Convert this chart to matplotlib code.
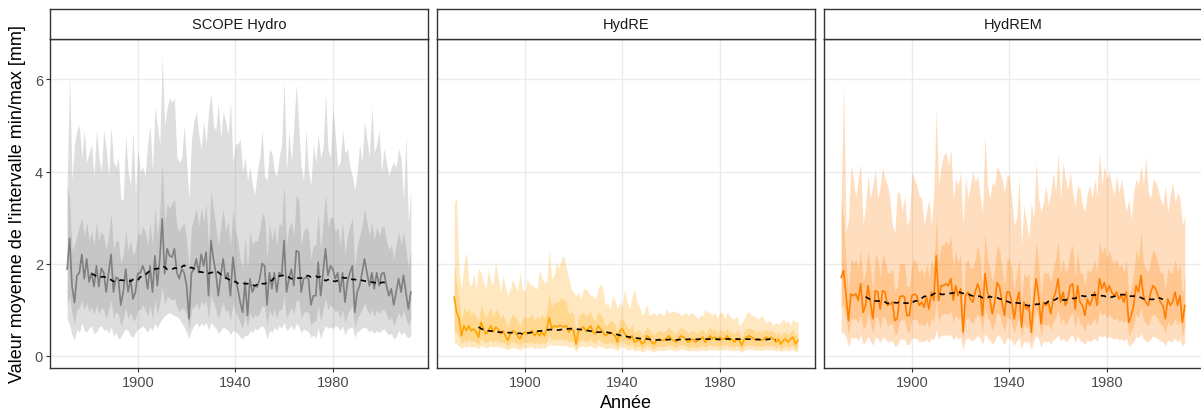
import numpy as np
import pandas as pd
import matplotlib
matplotlib.use("Agg")
import matplotlib.pyplot as plt

plt.rcParams['font.family'] = ['Liberation Sans', 'DejaVu Sans']

years = list(range(1871, 2013))
panel_titles = ["SCOPE Hydro", "HydRE", "HydREM"]
panel_colors = ["#7F7F7F", "#FFA500", "#FF7F00"]
x_ticks = [1900, 1940, 1980]
y_ticks = [0, 2, 4, 6]
x_label = "Année"
y_label = "Valeur moyenne de l'intervalle min/max [mm]"

# ---------------- SCOPE Hydro ----------------
scope_median = [
    1.88, 2.55, 1.50, 1.15, 1.74, 1.80, 2.20, 1.67, 2.10, 1.60,
    1.80, 1.50, 1.95, 1.50, 1.90, 1.80, 1.38, 1.80, 2.20, 1.38,
    1.70, 1.67, 1.10, 1.38, 1.88, 1.38, 1.67, 1.23, 1.38, 1.78,
    1.80, 1.95, 1.80, 1.45, 1.95, 1.38, 2.17, 1.52, 2.10, 2.97,
    1.78, 2.32, 2.17, 2.14, 2.32, 1.80, 1.67, 1.88, 1.80, 1.52,
    0.80, 1.80, 1.88, 2.10, 1.80, 2.20, 1.95, 2.25, 1.30, 2.50,
    2.10, 1.80, 1.30, 1.74, 2.10, 1.67, 1.80, 1.30, 2.14, 1.67,
    1.45, 1.16, 0.94, 1.60, 0.87, 1.67, 1.38, 1.52, 1.49, 1.67,
    2.00, 1.95, 1.10, 1.80, 1.45, 1.80, 1.38, 1.80, 1.74, 2.50,
    1.38, 1.67, 1.88, 1.52, 2.28, 2.25, 1.38, 1.67, 1.70, 1.67,
    1.10, 1.30, 1.30, 2.03, 1.30, 1.80, 2.32, 1.74, 1.95, 1.88,
    1.67, 1.80, 1.38, 1.80, 1.16, 1.60, 1.80, 1.95, 0.94, 1.38,
    1.52, 1.80, 2.10, 1.80, 1.52, 1.80, 1.45, 1.80, 1.52, 1.78,
    1.80, 1.52, 1.30, 1.45, 1.10, 1.38, 1.67, 1.38, 1.74, 1.38,
    1.01, 1.38]
scope_outer_hi = [
    3.80, 6.10, 3.80, 4.60, 4.90, 5.00, 4.30, 4.90, 4.20, 4.40,
    4.60, 3.90, 4.90, 4.30, 4.00, 4.90, 4.50, 3.90, 5.00, 4.20,
    4.10, 4.30, 3.40, 3.40, 4.80, 4.00, 3.70, 4.90, 3.50, 4.50,
    4.00, 4.10, 3.90, 4.60, 5.00, 4.00, 5.40, 5.00, 4.60, 6.50,
    5.00, 5.40, 5.60, 5.50, 5.60, 4.30, 4.20, 4.30, 5.00, 4.20,
    3.40, 4.70, 5.10, 5.30, 4.80, 4.50, 5.10, 4.60, 5.30, 5.70,
    5.00, 4.90, 5.50, 4.70, 5.30, 5.10, 4.80, 5.50, 4.20, 4.60,
    4.60, 4.70, 4.00, 4.30, 3.80, 4.10, 3.70, 3.50, 4.00, 4.30,
    4.90, 3.90, 3.80, 4.50, 4.40, 4.00, 3.90, 4.30, 4.60, 6.00,
    4.00, 4.90, 4.20, 5.00, 5.90, 5.00, 4.10, 3.80, 4.90, 4.00,
    3.70, 4.60, 4.20, 4.80, 4.30, 4.50, 5.70, 4.50, 4.30, 5.40,
    4.80, 4.10, 4.20, 4.90, 4.40, 4.50, 4.10, 3.90, 3.60, 4.00,
    4.60, 4.20, 5.10, 4.70, 4.30, 5.40, 4.40, 4.60, 4.90, 4.00,
    4.50, 4.20, 3.90, 4.10, 4.20, 4.10, 4.50, 4.30, 3.40, 4.80,
    2.90, 3.60]
scope_outer_lo = [
    0.80, 0.65, 0.45, 0.33, 0.58, 0.50, 0.72, 0.55, 0.51, 0.60,
    0.65, 0.48, 0.51, 0.62, 0.65, 0.55, 0.58, 0.48, 0.62, 0.43,
    0.50, 0.36, 0.40, 0.51, 0.58, 0.55, 0.43, 0.40, 0.50, 0.58,
    0.60, 0.65, 0.58, 0.50, 0.62, 0.55, 0.70, 0.60, 0.72, 0.80,
    0.87, 0.90, 0.94, 0.90, 0.87, 0.85, 0.80, 0.70, 0.62, 0.50,
    0.36, 0.55, 0.65, 0.72, 0.62, 0.70, 0.65, 0.72, 0.55, 0.72,
    0.65, 0.60, 0.48, 0.55, 0.62, 0.58, 0.55, 0.45, 0.55, 0.51,
    0.48, 0.40, 0.36, 0.45, 0.43, 0.55, 0.50, 0.60, 0.55, 0.62,
    0.65, 0.58, 0.36, 0.55, 0.50, 0.62, 0.55, 0.65, 0.60, 0.72,
    0.55, 0.60, 0.65, 0.55, 0.70, 0.65, 0.50, 0.58, 0.55, 0.52,
    0.40, 0.45, 0.38, 0.60, 0.36, 0.55, 0.65, 0.60, 0.62, 0.58,
    0.65, 0.62, 0.55, 0.65, 0.45, 0.58, 0.60, 0.62, 0.40, 0.52,
    0.55, 0.60, 0.62, 0.58, 0.52, 0.55, 0.48, 0.55, 0.50, 0.55,
    0.58, 0.50, 0.45, 0.48, 0.36, 0.42, 0.55, 0.45, 0.52, 0.43,
    0.38, 0.45]
scope_inner_hi = [
    3.70, 3.40, 2.30, 2.40, 2.60, 2.80, 3.00, 2.60, 2.90, 2.50,
    2.70, 2.40, 2.90, 2.50, 2.70, 2.60, 2.30, 2.60, 3.10, 2.30,
    2.50, 2.50, 2.00, 2.20, 2.70, 2.30, 2.50, 2.20, 2.30, 2.70,
    2.60, 2.80, 2.70, 2.40, 2.90, 2.40, 3.20, 2.60, 3.10, 4.20,
    2.90, 3.30, 3.20, 3.30, 3.40, 2.80, 2.70, 2.80, 2.90, 2.50,
    1.90, 2.80, 3.00, 3.20, 2.80, 3.20, 2.90, 3.30, 2.30, 3.60,
    3.20, 2.80, 2.40, 2.80, 3.20, 2.70, 2.90, 2.40, 3.20, 2.70,
    2.50, 2.10, 1.90, 2.60, 1.90, 2.70, 2.40, 2.50, 2.50, 2.70,
    3.10, 3.00, 2.10, 2.90, 2.50, 2.80, 2.40, 2.90, 2.80, 3.70,
    2.40, 2.80, 2.90, 2.60, 3.50, 3.40, 2.40, 2.70, 2.80, 2.70,
    2.10, 2.40, 2.40, 3.10, 2.30, 2.90, 3.50, 2.80, 3.00, 3.00,
    2.70, 2.80, 2.40, 2.90, 2.20, 2.60, 2.80, 3.00, 1.90, 2.40,
    2.60, 2.80, 3.20, 2.90, 2.60, 2.90, 2.50, 2.80, 2.60, 2.80,
    2.80, 2.50, 2.30, 2.40, 2.10, 2.40, 2.70, 2.40, 2.70, 2.30,
    1.90, 2.30]
scope_inner_lo = [
    1.10, 1.30, 0.90, 0.70, 1.00, 1.05, 1.20, 1.00, 1.15, 0.95,
    1.05, 0.90, 1.10, 0.90, 1.05, 1.00, 0.80, 1.00, 1.20, 0.80,
    0.95, 0.90, 0.65, 0.80, 1.05, 0.80, 0.95, 0.75, 0.80, 1.00,
    1.00, 1.10, 1.00, 0.85, 1.10, 0.80, 1.20, 0.90, 1.15, 1.50,
    1.10, 1.30, 1.25, 1.20, 1.25, 1.05, 0.95, 1.05, 1.00, 0.90,
    0.55, 1.00, 1.05, 1.15, 1.00, 1.20, 1.10, 1.20, 0.80, 1.30,
    1.15, 1.00, 0.80, 1.00, 1.15, 0.95, 1.00, 0.75, 1.15, 0.95,
    0.85, 0.70, 0.60, 0.90, 0.60, 0.95, 0.80, 0.90, 0.85, 0.95,
    1.10, 1.05, 0.65, 1.00, 0.85, 1.00, 0.80, 1.00, 1.00, 1.30,
    0.80, 0.95, 1.05, 0.90, 1.20, 1.20, 0.80, 0.95, 0.95, 0.95,
    0.65, 0.75, 0.75, 1.10, 0.75, 1.00, 1.25, 1.00, 1.10, 1.05,
    0.95, 1.00, 0.80, 1.00, 0.70, 0.90, 1.00, 1.10, 0.60, 0.80,
    0.90, 1.00, 1.15, 1.00, 0.90, 1.00, 0.85, 1.00, 0.90, 1.00,
    1.00, 0.90, 0.75, 0.85, 0.65, 0.80, 0.95, 0.80, 1.00, 0.80,
    0.65, 0.80]

# ---------------- HydRE ----------------
hydre_median = [
    1.27, 0.94, 0.80, 0.43, 0.65, 0.54, 0.65, 0.54, 0.58, 0.51,
    0.40, 0.72, 0.58, 0.47, 0.54, 0.65, 0.51, 0.62, 0.58, 0.47,
    0.54, 0.43, 0.33, 0.47, 0.54, 0.51, 0.43, 0.36, 0.47, 0.51,
    0.47, 0.51, 0.54, 0.43, 0.51, 0.43, 0.51, 0.43, 0.58, 0.83,
    0.58, 0.65, 0.62, 0.65, 0.65, 0.62, 0.65, 0.51, 0.58, 0.54,
    0.25, 0.54, 0.58, 0.62, 0.54, 0.58, 0.65, 0.51, 0.47, 0.65,
    0.58, 0.51, 0.43, 0.47, 0.51, 0.47, 0.43, 0.29, 0.54, 0.58,
    0.47, 0.40, 0.36, 0.43, 0.29, 0.33, 0.36, 0.25, 0.29, 0.43,
    0.40, 0.29, 0.25, 0.33, 0.36, 0.33, 0.33, 0.36, 0.43, 0.36,
    0.33, 0.29, 0.36, 0.43, 0.40, 0.36, 0.29, 0.33, 0.36, 0.29,
    0.33, 0.36, 0.40, 0.29, 0.36, 0.43, 0.36, 0.40, 0.33, 0.40,
    0.36, 0.36, 0.43, 0.33, 0.36, 0.29, 0.36, 0.33, 0.22, 0.36,
    0.40, 0.43, 0.40, 0.36, 0.33, 0.36, 0.33, 0.36, 0.40, 0.36,
    0.40, 0.36, 0.29, 0.36, 0.25, 0.33, 0.36, 0.29, 0.36, 0.40,
    0.25, 0.33]
hydre_outer_hi = [
    3.30, 3.44, 1.80, 1.45, 2.00, 2.25, 1.60, 1.50, 1.80, 1.45,
    1.90, 1.81, 1.60, 1.45, 1.88, 1.60, 1.55, 2.03, 1.70, 1.38,
    1.74, 1.50, 1.30, 1.45, 1.67, 1.52, 1.40, 1.81, 1.45, 1.38,
    1.67, 1.55, 1.52, 1.48, 1.45, 1.88, 1.70, 1.59, 1.60, 2.32,
    1.67, 1.75, 2.03, 1.90, 2.10, 2.17, 1.90, 1.67, 1.45, 1.38,
    1.30, 1.38, 1.23, 1.45, 1.45, 1.38, 1.30, 1.30, 1.23, 1.45,
    1.56, 1.45, 1.09, 1.16, 1.01, 1.30, 1.20, 1.01, 1.16, 1.09,
    1.45, 1.16, 1.01, 1.30, 1.45, 1.16, 1.09, 0.87, 0.94, 1.12,
    0.87, 0.90, 0.94, 0.87, 0.94, 0.90, 0.87, 1.01, 0.94, 0.94,
    0.98, 0.94, 0.94, 0.87, 0.90, 0.94, 0.87, 0.94, 0.90, 0.87,
    0.80, 0.87, 0.87, 1.01, 0.94, 0.94, 0.87, 0.94, 0.80, 0.94,
    0.94, 0.80, 0.94, 0.87, 0.80, 0.80, 0.87, 0.65, 0.72, 0.80,
    0.94, 0.94, 0.87, 0.87, 0.80, 0.80, 0.87, 0.80, 0.72, 0.76,
    0.72, 0.65, 0.72, 0.68, 0.72, 0.80, 0.72, 0.76, 0.65, 0.80,
    0.72, 0.76]
hydre_outer_lo = [
    0.29, 0.25, 0.22, 0.15, 0.20, 0.18, 0.22, 0.18, 0.20, 0.18,
    0.15, 0.22, 0.20, 0.17, 0.18, 0.22, 0.18, 0.20, 0.20, 0.17,
    0.18, 0.15, 0.12, 0.16, 0.18, 0.17, 0.15, 0.12, 0.16, 0.18,
    0.17, 0.18, 0.19, 0.15, 0.18, 0.15, 0.18, 0.15, 0.20, 0.25,
    0.22, 0.23, 0.22, 0.23, 0.22, 0.21, 0.22, 0.18, 0.20, 0.18,
    0.08, 0.18, 0.20, 0.21, 0.18, 0.20, 0.22, 0.18, 0.16, 0.22,
    0.20, 0.18, 0.15, 0.16, 0.18, 0.16, 0.15, 0.10, 0.18, 0.20,
    0.16, 0.13, 0.12, 0.15, 0.10, 0.11, 0.12, 0.08, 0.10, 0.14,
    0.13, 0.10, 0.08, 0.11, 0.12, 0.11, 0.11, 0.12, 0.14, 0.12,
    0.11, 0.10, 0.12, 0.14, 0.13, 0.12, 0.10, 0.11, 0.12, 0.10,
    0.11, 0.12, 0.13, 0.10, 0.12, 0.14, 0.12, 0.13, 0.11, 0.13,
    0.12, 0.12, 0.14, 0.11, 0.12, 0.10, 0.12, 0.11, 0.07, 0.12,
    0.13, 0.14, 0.13, 0.12, 0.11, 0.12, 0.11, 0.12, 0.13, 0.12,
    0.13, 0.12, 0.10, 0.12, 0.08, 0.11, 0.12, 0.10, 0.12, 0.13,
    0.08, 0.11]
hydre_inner_hi = [
    2.00, 1.60, 1.20, 0.75, 1.05, 0.95, 1.00, 0.90, 0.95, 0.85,
    0.75, 1.10, 0.95, 0.80, 0.95, 1.05, 0.85, 1.00, 0.95, 0.80,
    0.90, 0.75, 0.60, 0.80, 0.90, 0.85, 0.75, 0.65, 0.80, 0.85,
    0.80, 0.85, 0.90, 0.75, 0.85, 0.80, 0.90, 0.80, 1.00, 1.35,
    1.05, 1.15, 1.15, 1.20, 1.25, 1.20, 1.15, 0.90, 0.95, 0.90,
    0.50, 0.85, 0.90, 0.95, 0.85, 0.90, 0.95, 0.80, 0.75, 0.95,
    0.90, 0.80, 0.65, 0.70, 0.75, 0.75, 0.68, 0.50, 0.80, 0.80,
    0.72, 0.62, 0.58, 0.68, 0.50, 0.55, 0.56, 0.45, 0.50, 0.62,
    0.58, 0.50, 0.45, 0.52, 0.56, 0.52, 0.52, 0.55, 0.62, 0.55,
    0.52, 0.48, 0.55, 0.62, 0.58, 0.55, 0.48, 0.52, 0.55, 0.48,
    0.50, 0.55, 0.58, 0.48, 0.55, 0.62, 0.55, 0.58, 0.50, 0.58,
    0.55, 0.52, 0.60, 0.50, 0.52, 0.46, 0.55, 0.48, 0.38, 0.52,
    0.58, 0.60, 0.58, 0.55, 0.50, 0.55, 0.50, 0.55, 0.56, 0.52,
    0.56, 0.52, 0.45, 0.52, 0.42, 0.50, 0.52, 0.45, 0.52, 0.56,
    0.42, 0.50]
hydre_inner_lo = [
    0.55, 0.50, 0.42, 0.25, 0.35, 0.30, 0.35, 0.30, 0.32, 0.28,
    0.24, 0.38, 0.32, 0.27, 0.30, 0.35, 0.28, 0.34, 0.32, 0.27,
    0.30, 0.25, 0.20, 0.27, 0.30, 0.28, 0.25, 0.21, 0.27, 0.29,
    0.27, 0.29, 0.30, 0.25, 0.29, 0.25, 0.29, 0.25, 0.32, 0.45,
    0.34, 0.36, 0.35, 0.36, 0.36, 0.34, 0.36, 0.29, 0.32, 0.30,
    0.15, 0.30, 0.32, 0.34, 0.30, 0.32, 0.36, 0.29, 0.27, 0.36,
    0.32, 0.29, 0.25, 0.27, 0.29, 0.27, 0.25, 0.17, 0.30, 0.32,
    0.27, 0.23, 0.21, 0.25, 0.17, 0.19, 0.21, 0.15, 0.17, 0.24,
    0.22, 0.17, 0.14, 0.19, 0.21, 0.19, 0.19, 0.21, 0.24, 0.21,
    0.19, 0.17, 0.21, 0.24, 0.22, 0.21, 0.17, 0.19, 0.21, 0.17,
    0.19, 0.21, 0.22, 0.17, 0.21, 0.24, 0.21, 0.22, 0.19, 0.22,
    0.21, 0.21, 0.24, 0.19, 0.21, 0.17, 0.21, 0.19, 0.13, 0.21,
    0.22, 0.24, 0.22, 0.21, 0.19, 0.21, 0.19, 0.21, 0.22, 0.21,
    0.22, 0.21, 0.17, 0.21, 0.14, 0.19, 0.21, 0.17, 0.21, 0.22,
    0.14, 0.19]

# ---------------- HydREM ----------------
hydrem_median = [
    1.70, 1.85, 1.30, 0.76, 1.34, 1.30, 1.34, 1.20, 1.56, 0.94,
    1.09, 1.52, 1.16, 0.80, 1.41, 1.38, 1.01, 1.41, 1.38, 1.09,
    1.12, 1.16, 0.76, 0.80, 1.27, 1.30, 1.27, 0.87, 0.87, 1.30,
    1.34, 1.30, 1.09, 1.16, 1.05, 1.27, 1.01, 1.38, 1.20, 2.17,
    1.20, 1.52, 1.52, 1.56, 1.52, 1.67, 1.20, 1.52, 1.30, 1.45,
    0.51, 1.30, 1.38, 1.23, 1.16, 1.38, 1.56, 1.38, 0.87, 1.78,
    1.38, 1.23, 0.91, 1.16, 1.59, 1.49, 1.16, 0.87, 1.38, 1.38,
    1.16, 0.80, 1.16, 1.38, 0.62, 1.16, 1.01, 1.09, 0.51, 1.16,
    1.67, 1.30, 0.69, 1.16, 1.09, 1.16, 0.91, 1.23, 1.38, 1.67,
    1.16, 1.38, 1.09, 1.23, 1.52, 1.56, 1.01, 1.52, 1.16, 1.09,
    0.87, 1.23, 1.09, 1.23, 1.38, 1.09, 1.67, 1.45, 1.59, 1.38,
    1.52, 1.38, 1.30, 1.38, 1.23, 1.30, 1.16, 1.38, 0.72, 0.87,
    1.09, 1.52, 1.38, 1.74, 1.30, 1.16, 1.09, 1.38, 1.52, 1.45,
    1.30, 1.16, 1.09, 0.80, 1.23, 1.09, 1.16, 1.38, 1.09, 1.30,
    0.72, 1.09]
hydrem_outer_hi = [
    3.40, 5.94, 2.68, 2.97, 4.13, 3.84, 3.41, 3.84, 4.17, 2.83,
    3.26, 3.91, 3.41, 3.70, 4.06, 3.41, 3.70, 4.09, 3.84, 3.70,
    3.41, 2.83, 2.68, 3.55, 3.55, 3.12, 3.48, 2.83, 2.97, 3.99,
    3.84, 3.70, 3.48, 3.41, 2.83, 3.12, 3.41, 2.83, 3.55, 5.36,
    3.70, 4.13, 4.35, 4.42, 4.13, 4.49, 3.41, 3.84, 3.70, 3.99,
    2.83, 3.91, 3.41, 3.70, 3.99, 3.77, 3.91, 3.48, 3.12, 4.78,
    3.70, 3.41, 3.77, 3.70, 4.13, 3.99, 3.84, 3.55, 3.91, 3.91,
    3.41, 2.83, 2.97, 3.84, 2.39, 3.26, 2.90, 2.54, 3.33, 2.97,
    4.20, 3.41, 3.12, 3.33, 3.70, 3.26, 3.55, 3.99, 3.55, 4.42,
    3.41, 4.20, 3.84, 3.62, 3.99, 3.55, 3.26, 3.70, 3.62, 3.26,
    3.12, 3.55, 3.70, 3.41, 3.84, 3.48, 4.42, 3.70, 4.13, 3.84,
    3.99, 3.70, 3.48, 3.91, 3.55, 3.84, 3.48, 3.12, 3.41, 2.97,
    3.55, 3.84, 3.70, 4.13, 3.70, 4.35, 3.55, 3.41, 3.84, 3.77,
    3.62, 3.41, 3.26, 3.70, 3.12, 3.48, 3.77, 3.33, 3.55, 3.41,
    2.83, 3.04]
hydrem_outer_lo = [
    0.50, 0.50, 0.40, 0.18, 0.40, 0.38, 0.40, 0.32, 0.45, 0.25,
    0.30, 0.42, 0.32, 0.22, 0.40, 0.38, 0.28, 0.40, 0.38, 0.30,
    0.32, 0.32, 0.20, 0.22, 0.36, 0.36, 0.35, 0.24, 0.24, 0.38,
    0.38, 0.36, 0.30, 0.32, 0.30, 0.36, 0.28, 0.38, 0.34, 0.55,
    0.36, 0.44, 0.44, 0.45, 0.44, 0.46, 0.34, 0.42, 0.36, 0.40,
    0.11, 0.36, 0.38, 0.34, 0.32, 0.38, 0.44, 0.38, 0.24, 0.48,
    0.38, 0.34, 0.25, 0.32, 0.44, 0.42, 0.32, 0.24, 0.38, 0.38,
    0.32, 0.22, 0.32, 0.38, 0.15, 0.32, 0.28, 0.30, 0.14, 0.32,
    0.45, 0.36, 0.18, 0.32, 0.30, 0.32, 0.25, 0.34, 0.38, 0.46,
    0.32, 0.38, 0.30, 0.34, 0.42, 0.44, 0.28, 0.42, 0.32, 0.30,
    0.24, 0.34, 0.30, 0.34, 0.38, 0.30, 0.46, 0.40, 0.44, 0.38,
    0.42, 0.38, 0.36, 0.38, 0.34, 0.36, 0.32, 0.38, 0.20, 0.24,
    0.30, 0.42, 0.38, 0.48, 0.36, 0.32, 0.30, 0.38, 0.42, 0.40,
    0.36, 0.32, 0.30, 0.22, 0.34, 0.30, 0.32, 0.38, 0.30, 0.36,
    0.20, 0.30]
hydrem_inner_hi = [
    3.40, 2.90, 2.00, 1.40, 2.10, 2.00, 2.10, 1.90, 2.30, 1.60,
    1.80, 2.30, 1.90, 1.40, 2.20, 2.10, 1.70, 2.20, 2.10, 1.80,
    1.80, 1.90, 1.40, 1.50, 2.00, 2.00, 2.00, 1.50, 1.50, 2.00,
    2.10, 2.00, 1.80, 1.90, 1.70, 2.00, 1.70, 2.10, 1.90, 3.00,
    2.00, 2.40, 2.40, 2.50, 2.40, 2.60, 1.90, 2.30, 2.00, 2.20,
    1.00, 2.00, 2.10, 1.90, 1.90, 2.10, 2.40, 2.10, 1.50, 2.70,
    2.10, 1.90, 1.60, 1.90, 2.40, 2.30, 1.90, 1.50, 2.10, 2.10,
    1.90, 1.40, 1.80, 2.10, 1.20, 1.80, 1.70, 1.80, 1.00, 1.80,
    2.50, 2.00, 1.30, 1.80, 1.80, 1.80, 1.60, 1.90, 2.10, 2.50,
    1.80, 2.10, 1.80, 1.90, 2.30, 2.40, 1.70, 2.30, 1.80, 1.80,
    1.50, 1.90, 1.80, 1.90, 2.10, 1.80, 2.50, 2.20, 2.40, 2.10,
    2.30, 2.10, 2.00, 2.10, 1.90, 2.00, 1.80, 2.10, 1.30, 1.50,
    1.80, 2.30, 2.10, 2.70, 2.00, 1.90, 1.80, 2.10, 2.30, 2.20,
    2.00, 1.80, 1.80, 1.40, 1.90, 1.80, 1.80, 2.10, 1.80, 2.00,
    1.30, 1.80]
hydrem_inner_lo = [
    1.05, 1.10, 0.80, 0.45, 0.80, 0.80, 0.80, 0.70, 0.90, 0.55,
    0.65, 0.90, 0.70, 0.48, 0.85, 0.82, 0.60, 0.85, 0.82, 0.65,
    0.68, 0.70, 0.45, 0.48, 0.76, 0.78, 0.76, 0.52, 0.52, 0.78,
    0.80, 0.78, 0.65, 0.70, 0.63, 0.76, 0.60, 0.82, 0.72, 1.20,
    0.72, 0.90, 0.90, 0.92, 0.90, 0.98, 0.72, 0.90, 0.78, 0.86,
    0.30, 0.78, 0.82, 0.74, 0.70, 0.82, 0.92, 0.82, 0.52, 1.05,
    0.82, 0.74, 0.55, 0.70, 0.94, 0.88, 0.70, 0.52, 0.82, 0.82,
    0.70, 0.48, 0.70, 0.82, 0.38, 0.70, 0.60, 0.65, 0.30, 0.70,
    1.00, 0.78, 0.42, 0.70, 0.65, 0.70, 0.55, 0.74, 0.82, 1.00,
    0.70, 0.82, 0.65, 0.74, 0.90, 0.92, 0.60, 0.90, 0.70, 0.65,
    0.52, 0.74, 0.65, 0.74, 0.82, 0.65, 1.00, 0.86, 0.94, 0.82,
    0.90, 0.82, 0.78, 0.82, 0.74, 0.78, 0.70, 0.82, 0.43, 0.52,
    0.65, 0.90, 0.82, 1.04, 0.78, 0.70, 0.65, 0.82, 0.90, 0.86,
    0.78, 0.70, 0.65, 0.48, 0.74, 0.65, 0.70, 0.82, 0.65, 0.78,
    0.43, 0.65]

panels = [
    (scope_median, scope_outer_lo, scope_outer_hi, scope_inner_lo, scope_inner_hi),
    (hydre_median, hydre_outer_lo, hydre_outer_hi, hydre_inner_lo, hydre_inner_hi),
    (hydrem_median, hydrem_outer_lo, hydrem_outer_hi, hydrem_inner_lo, hydrem_inner_hi),
]

W, H = 1201, 414
fig = plt.figure(figsize=(W / 100, H / 100), dpi=100)

panel_left = [50, 437, 824]
panel_w = 378
plot_top, plot_bot = 40, 369
strip_top = 10

border = "#333333"
grid_c = "#EBEBEB"
tick_c = "#4D4D4D"

for i, (title, col, data) in enumerate(zip(panel_titles, panel_colors, panels)):
    med, olo, ohi, ilo, ihi = data
    l = panel_left[i]
    ax = fig.add_axes([l / W, 1 - plot_bot / H, panel_w / W, (plot_bot - plot_top) / H])
    ax.set_xlim(1863.95, 2019.05)
    ax.set_ylim(-0.27, 6.88)
    ax.set_xticks(x_ticks)
    ax.set_yticks(y_ticks)
    ax.grid(True, color=grid_c, lw=1.0, zorder=0)
    ax.set_axisbelow(True)
    ax.fill_between(years, olo, ohi, color=col, alpha=0.25, lw=0, zorder=1)
    ax.fill_between(years, ilo, ihi, color=col, alpha=0.25, lw=0, zorder=2)
    ax.plot(years, med, color=col, lw=1.2, zorder=3)
    roll = pd.Series(med, index=years).rolling(20, center=True).mean()
    ln, = ax.plot(roll.index, roll.values, color="black", lw=1.2, zorder=4)
    ln.set_dashes([3.2, 2.8])
    for sp in ax.spines.values():
        sp.set_color(border)
        sp.set_linewidth(1.0)
    ax.tick_params(axis="both", colors=border, length=3, width=0.8,
                   labelcolor=tick_c, labelsize=10.5, pad=2)
    if i > 0:
        ax.tick_params(axis="y", labelleft=False, length=0)
    else:
        ax.set_yticklabels([str(v) for v in y_ticks])
    ax.set_xticklabels([str(v) for v in x_ticks])

    # strip
    sax = fig.add_axes([l / W, 1 - plot_top / H, panel_w / W, (plot_top - strip_top) / H])
    sax.set_xticks([])
    sax.set_yticks([])
    sax.set_facecolor("white")
    for sp in sax.spines.values():
        sp.set_color(border)
        sp.set_linewidth(1.0)
    sax.text(0.5, 0.5, title, ha="center", va="center", fontsize=10.5,
             color="#1A1A1A", transform=sax.transAxes)

fig.text((437 + 378 / 2) / W, 1 - 404 / H, x_label, ha="center", va="center",
         fontsize=13, color="black")
fig.text(18 / W, 1 - (plot_top + plot_bot) / 2 / H, y_label, ha="center", va="center",
         rotation=90, fontsize=13, color="black")

fig.savefig("out.png", dpi=100)
